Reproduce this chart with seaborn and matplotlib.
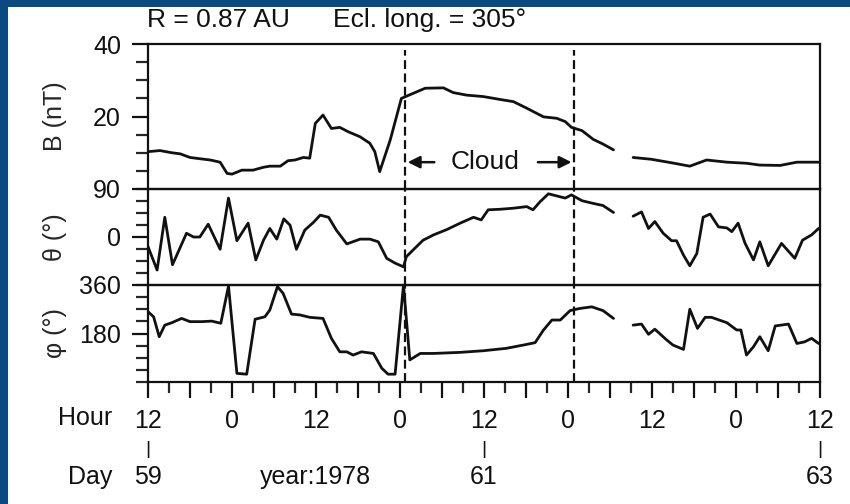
import numpy as np
import pandas as pd
import seaborn as sns
import matplotlib
matplotlib.use("Agg")
import matplotlib.pyplot as plt
from matplotlib.patches import Rectangle

# hours counted from day 59, 12:00 UT (1978); data gap between ~66.5 h and ~69 h
B_HOURS = [0.0, 1.7, 3.4, 4.6, 6.0, 7.2, 8.9, 10.3, 11.3, 12.0,
           13.4, 15.0, 16.5, 17.4, 18.9, 20.0, 21.0, 22.2, 23.1, 23.9,
           25.0, 26.2, 27.4, 28.6, 30.3, 31.7, 32.4, 33.1, 34.6, 36.2,
           37.9, 39.6, 42.2, 43.6, 45.5, 47.9, 50.3, 52.2, 54.1, 56.5,
           58.4, 59.6, 60.5, 62.0, 63.6, 65.0, 66.5,
           69.3, 71.9, 74.6, 77.4, 79.8, 82.7, 85.5, 87.4, 90.3, 92.7, 95.8]
B_NT = [10.3, 10.6, 10.0, 9.7, 8.7, 8.4, 8.0, 7.4, 4.3, 4.1,
        5.2, 5.2, 6.0, 6.3, 6.3, 7.8, 8.0, 8.7, 8.5, 18.1,
        20.4, 16.7, 17.0, 15.8, 14.4, 12.6, 10.3, 4.8, 13.5, 25.0,
        26.4, 27.8, 27.9, 26.6, 25.9, 25.5, 24.7, 24.1, 22.3, 19.9,
        19.5, 18.6, 17.0, 16.1, 13.7, 12.4, 10.8,
        8.7, 8.2, 7.3, 6.3, 8.0, 7.4, 7.1, 6.6, 6.5, 7.4, 7.4]

THETA_HOURS = [0.0, 1.3, 2.4, 3.5, 5.5, 6.5, 7.4, 8.6, 10.3, 11.5,
               12.7, 14.3, 15.4, 16.5, 17.4, 18.4, 19.4, 20.3, 21.2, 22.4,
               23.6, 24.6, 25.8, 26.9, 28.4, 30.3, 31.7, 32.9, 34.1, 35.3,
               36.5, 36.9, 37.9, 39.3, 40.8, 42.7, 44.6, 46.5, 47.6, 48.6,
               50.3, 52.2, 54.1, 55.0, 56.0, 57.2, 58.4, 59.6, 60.5, 62.0,
               63.6, 65.0, 66.5,
               69.3, 70.5, 71.5, 72.4, 73.6, 74.8, 75.5, 76.5, 77.4, 78.4,
               79.3, 80.3, 81.5, 82.7, 83.4, 84.3, 85.3, 86.5, 87.4, 88.6,
               90.5, 92.4, 93.5, 94.8, 95.8]
THETA_DEG = [-18, -62, 37, -52, 7, 0, 0, 24, -23, 73,
             -7, 26, -43, -6, 16, -4, 34, 22, -23, 13,
             27, 41, 37, 13, -13, -4, -4, -9, -40, -49,
             -56, -37, -24, -6, 4, 14, 26, 37, 32, 51,
             52, 54, 57, 51, 66, 81, 77, 73, 79, 68,
             63, 59, 46,
             39, 47, 16, 29, 7, -7, -7, -34, -54, -31,
             37, 43, 19, 17, 10, 26, -12, -43, -9, -54,
             -12, -40, -6, 4, 16]

PHI_HOURS = [0.0, 0.8, 1.6, 2.4, 3.4, 4.8, 6.0, 7.7, 9.1, 10.4,
             11.5, 12.7, 14.1, 15.3, 16.7, 17.4, 18.5, 19.3, 20.5, 21.7,
             23.1, 25.0, 26.2, 27.4, 28.4, 29.3, 30.5, 32.2, 33.4, 34.3,
             35.3, 36.5, 37.4, 38.9, 40.8, 44.6, 47.9, 51.2, 53.6, 55.3,
             56.5, 57.7, 58.9, 60.3, 61.7, 63.4, 65.0, 66.5,
             69.3, 70.5, 71.5, 72.4, 74.1, 75.0, 76.5, 77.4, 78.5, 79.6,
             80.5, 82.7, 84.1, 84.7, 85.5, 86.5, 87.4, 88.6, 89.6, 91.5,
             92.7, 93.8, 94.8, 95.8]
PHI_DEG = [261, 242, 168, 211, 220, 236, 224, 224, 226, 218,
           356, 32, 29, 233, 242, 267, 354, 329, 252, 249,
           240, 236, 162, 112, 112, 100, 112, 106, 51, 29,
           29, 360, 82, 106, 106, 110, 116, 125, 137, 146,
           193, 230, 230, 265, 273, 279, 265, 236,
           211, 215, 177, 196, 156, 137, 121, 270, 199, 240,
           240, 220, 193, 193, 100, 131, 168, 116, 208, 215,
           143, 149, 162, 143]

# magnetic cloud boundaries (hours)
CLOUD_START = 36.7
CLOUD_END = 60.9

HOUR_TICKS = [0, 12, 24, 36, 48, 60, 72, 84, 96]
HOUR_LABELS = ["12", "0", "12", "0", "12", "0", "12", "0", "12"]
DAY_TICKS = [0, 48, 96]
DAY_LABELS = ["59", "61", "63"]

BLUE = "#0a4a7e"
INK = "#111111"
FS = 18

sns.set_style("ticks")
plt.rcParams['font.family'] = ['Liberation Sans', 'DejaVu Sans']
plt.rcParams['axes.linewidth'] = 1.6
plt.rcParams['text.color'] = INK
plt.rcParams['axes.edgecolor'] = INK


def frame(hours, values, name):
    df = pd.DataFrame({"hour": hours, name: values})
    # split the record at the data gap so the line is not bridged
    df["seg"] = np.where(df["hour"] < 68, 0, 1)
    return df


fig = plt.figure(figsize=(8.5, 5.04), dpi=100, facecolor=BLUE)
fig.add_artist(Rectangle((8 / 850, 0), 1, 497 / 504, transform=fig.transFigure,
                         facecolor="white", edgecolor="none", zorder=-10))

left, width = 148 / 850, 672 / 850
ax_b = fig.add_axes([left, 315 / 504, width, 145 / 504])
ax_t = fig.add_axes([left, 219 / 504, width, 96 / 504])
ax_p = fig.add_axes([left, 122 / 504, width, 97 / 504])

panels = [
    (ax_b, frame(B_HOURS, B_NT, "B"), "B", (0, 40), [20, 40], np.arange(0, 41, 5), "B (nT)"),
    (ax_t, frame(THETA_HOURS, THETA_DEG, "theta"), "theta", (-90, 90), [0, 90], np.arange(-90, 91, 22.5), "θ (°)"),
    (ax_p, frame(PHI_HOURS, PHI_DEG, "phi"), "phi", (0, 360), [180, 360], np.arange(0, 361, 45), "φ (°)"),
]

for ax, df, col, ylim, major, minor, label in panels:
    ax.set_facecolor("none")
    sns.lineplot(data=df, x="hour", y=col, units="seg", estimator=None,
                 color=INK, lw=2.0, sort=False, ax=ax)
    ax.set_xlim(0, 96)
    ax.set_ylim(*ylim)
    ax.set_yticks(major)
    ax.set_yticks(minor, minor=True)
    ax.tick_params(axis="y", which="major", length=11.5, width=1.6, pad=8,
                   labelsize=FS, colors=INK)
    ax.tick_params(axis="y", which="minor", length=9, width=1.6)
    ax.set_xlabel("")
    ax.set_ylabel(label, fontsize=FS)
    ax.yaxis.set_label_coords(-0.12, 0.5)
    # cloud boundaries
    top = 0.96 if ax is ax_b else 1.0
    for h in (CLOUD_START, CLOUD_END):
        ax.axvline(h, ymax=top, color=INK, lw=1.6, dashes=(4, 2))

for ax in (ax_b, ax_t):
    ax.tick_params(axis="x", which="both", bottom=False, labelbottom=False)

ax_p.set_xticks(range(0, 97, 6))
ax_p.set_xticklabels([HOUR_LABELS[HOUR_TICKS.index(h)] if h in HOUR_TICKS else ""
                      for h in range(0, 97, 6)])
ax_p.set_xticks(range(0, 97, 3), minor=True)
ax_p.tick_params(axis="x", which="major", length=11.5, width=1.6, pad=8,
                 labelsize=FS, colors=INK)
ax_p.tick_params(axis="x", which="minor", length=8, width=1.6)

# cloud annotation
ax_b.text(48.1, 7.4, "Cloud", fontsize=19, ha="center", va="center")
arrow = dict(arrowstyle="-|>", mutation_scale=18, lw=1.8, color=INK)
ax_b.annotate("", xy=(CLOUD_START, 7.4), xytext=(41.3, 7.4), arrowprops=arrow)
ax_b.annotate("", xy=(CLOUD_END, 7.4), xytext=(55.3, 7.4), arrowprops=arrow)

# header
fig.text(147 / 850, 0.960, "R = 0.87 AU", fontsize=19, ha="left", va="center")
fig.text(333 / 850, 0.960, "Ecl. long. = 305°", fontsize=19, ha="left", va="center")

# time axis rows
fig.text(112 / 850, (504 - 418) / 504, "Hour", fontsize=FS, ha="right", va="center")
fig.text(112 / 850, (504 - 477) / 504, "Day", fontsize=FS, ha="right", va="center")
fig.text(315 / 850, (504 - 477) / 504, "year:1978", fontsize=FS, ha="center", va="center")
to_fig = ax_p.transData + fig.transFigure.inverted()
for h, d in zip(DAY_TICKS, DAY_LABELS):
    fx = to_fig.transform((h, 0))[0]
    fig.text(fx, (504 - 449) / 504, "|", fontsize=14, ha="center", va="center")
    fig.text(fx, (504 - 477) / 504, d, fontsize=FS, ha="center", va="center")

fig.savefig("out.png", dpi=100, facecolor=fig.get_facecolor())
